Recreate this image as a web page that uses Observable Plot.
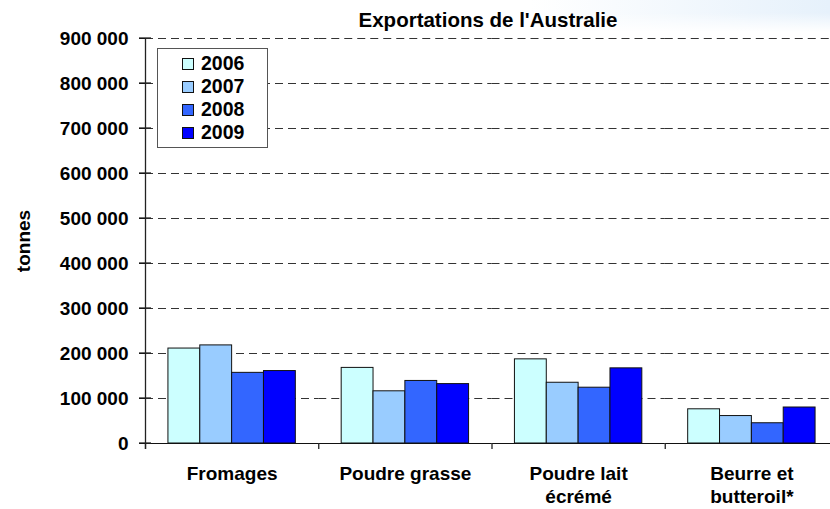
<!DOCTYPE html>
<html>
<head>
<meta charset="utf-8">
<script src="https://cdn.jsdelivr.net/npm/d3@7"></script>
<script src="https://cdn.jsdelivr.net/npm/@observablehq/plot@0.6"></script>
<style>
  html, body { margin: 0; padding: 0; background: white; overflow: hidden; }
  #wrap { position: relative; width: 830px; height: 509px; overflow: hidden; font-family: "Liberation Sans", Arial, sans-serif; font-weight: bold; color: #000; }
  #bg { position: absolute; top: 0; right: 0; width: 300px; height: 32px;
        background: linear-gradient(to bottom, rgba(255,255,255,0) 40%, #fff 100%), linear-gradient(to right, #fff 0%, #e6f1fb 100%); }
  #chart { position: absolute; top: 0; left: 0; }
  #title { position: absolute; top: 8px; left: 146px; width: 684px; text-align: center; font-size: 20.5px; line-height: 24px; }
  #ylabel { position: absolute; left: 24px; top: 241px; transform: translate(-50%, -50%) rotate(-90deg); font-size: 19px; white-space: nowrap; }
  #legend { position: absolute; left: 157px; top: 48px; width: 109px; height: 95px; border: 1px solid #555; background: #fff; padding-top: 3px; box-sizing: content-box; }
  .row { height: 23px; display: flex; align-items: center; font-size: 19.5px; }
  .sw { width: 10px; height: 10px; border: 1px solid #111; margin-left: 24px; margin-right: 7px; }
</style>
</head>
<body>
<div id="wrap">
  <div id="bg"></div>
  <div id="chart"></div>
  <div id="title">Exportations de l'Australie</div>
  <div id="ylabel">tonnes</div>
  <div id="legend"></div>
</div>
<script>
const categories = ["Fromages", "Poudre grasse", "Poudre lait écrémé", "Beurre et butteroil*"];
const categoryLabels = ["Fromages", "Poudre grasse", "Poudre lait\nécrémé", "Beurre et\nbutteroil*"];
const years = ["2006", "2007", "2008", "2009"];
const colors = ["#CCFFFF", "#99CCFF", "#3366FF", "#0000FF"];
const values2006 = [211000, 168000, 187000, 76000];
const values2007 = [218000, 116000, 135000, 61000];
const values2008 = [157000, 139000, 124000, 45000];
const values2009 = [161000, 132000, 167000, 80000];
const yTicks = [0, 100000, 200000, 300000, 400000, 500000, 600000, 700000, 800000, 900000];

const series = [values2006, values2007, values2008, values2009];
const data = [];
categories.forEach((c, i) => years.forEach((y, j) => data.push({category: c, year: y, value: series[j][i]})));

const fmt = d3.formatLocale({decimal: ",", thousands: "\u00a0", grouping: [3], currency: ["", ""]}).format(",d");
const tickFormat = d => fmt(d).replace(/\u00a0/g, " ");

const chart = Plot.plot({
  width: 838,
  height: 509,
  marginLeft: 145,
  marginRight: 0,
  marginTop: 38,
  marginBottom: 66,
  style: {fontFamily: "'Liberation Sans', Arial, sans-serif", fontWeight: "bold", fontSize: "19px", color: "#000", background: "transparent", maxWidth: "none", overflow: "visible"},
  fx: {domain: categories, padding: 0, round: false, axis: null, label: null},
  x: {domain: years, paddingInner: 0, paddingOuter: 0.72, round: false, axis: null},
  y: {domain: [0, 900000], ticks: yTicks, tickFormat, tickSize: 6, tickPadding: 11, label: null},
  color: {domain: years, range: colors},
  marks: [
    Plot.ruleY(yTicks.filter(d => d > 0), {stroke: "#333", strokeWidth: 1, strokeDasharray: "8,5"}),
    Plot.barY(data, {fx: "category", x: "year", y: "value", fill: "year", stroke: "#111", strokeWidth: 1, inset: 0}),
    Plot.ruleY([0], {stroke: "#111", strokeWidth: 1.2}),
    Plot.text(categories, {fx: d => d, text: (d, i) => categoryLabels[i], frameAnchor: "bottom", dy: 19, lineAnchor: "top", lineHeight: 1.26, fontSize: 19, fontWeight: "bold", fill: "#000"})
  ]
});
document.getElementById("chart").appendChild(chart);

// axis line and tick marks, positioned through Plot's own scales
const ys = chart.scale("y");
const fxs = chart.scale("fx");
const yAt = v => ys.apply(v);
const left = fxs.apply(categories[0]);
const bw = fxs.bandwidth != null ? fxs.bandwidth : (fxs.apply(categories[1]) - left);
const g = d3.select(chart).append("g").attr("stroke", "#222").attr("stroke-width", 1.3).attr("fill", "none");
const bounds = categories.map(c => fxs.apply(c)).concat([fxs.apply(categories[categories.length - 1]) + bw]);
g.append("line").attr("x1", left + 0.5).attr("x2", left + 0.5).attr("y1", yAt(900000)).attr("y2", yAt(0) + 6);
yTicks.forEach(v => g.append("line").attr("x1", left - 6).attr("x2", left + 6).attr("y1", yAt(v)).attr("y2", yAt(v)));
bounds.forEach(b => g.append("line").attr("x1", b + 0.5).attr("x2", b + 0.5).attr("y1", yAt(0)).attr("y2", yAt(0) + 6));

// legend
const legend = d3.select("#legend");
years.forEach((y, j) => {
  const row = legend.append("div").attr("class", "row");
  row.append("div").attr("class", "sw").style("background", colors[j]);
  row.append("span").text(y);
});
</script>
</body>
</html>
